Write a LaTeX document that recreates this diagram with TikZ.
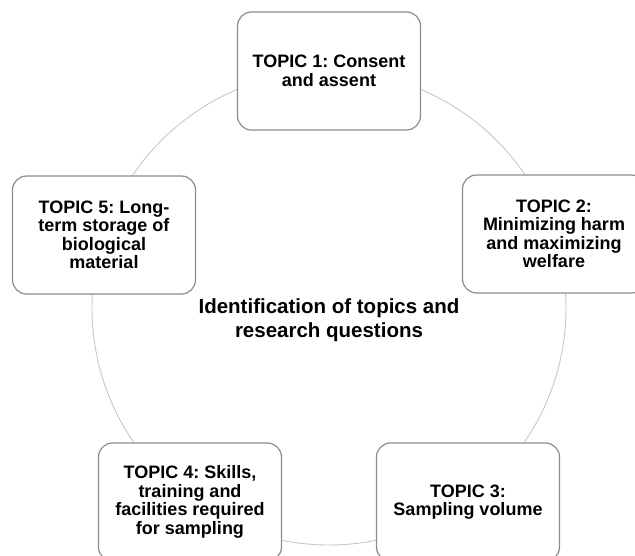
\documentclass[tikz,border=0pt]{standalone}
\usepackage{fontspec}
\setmainfont{Liberation Sans}
\usetikzlibrary{positioning}
\frenchspacing
\tikzset{
  topicbox/.style = {draw=black!45, line width=1.2pt, rounded corners=14pt, fill=white,
                     minimum width=183pt, minimum height=118pt, align=center,
                     inner sep=4pt, font=\fontsize{18}{18.5}\selectfont\bfseries},
  ring/.style     = {draw=black!22, line width=0.9pt},
  hubtext/.style  = {align=center, font=\fontsize{20.5}{24.5}\selectfont\bfseries},
}

\begin{document}
\begin{tikzpicture}[x=1pt, y=-1pt]
  \useasboundingbox (0,0) rectangle (635,556);
  % cycle behind the topics
  \coordinate (ctr) at (329,308);
  \draw[ring] (ctr) circle[radius=237pt];
  % topics
  \node[topicbox] (t1) at (329,71)  {TOPIC 1: Consent\\and assent};
  \node[topicbox] (t2) at (554,234) {TOPIC 2:\\Minimizing harm\\and maximizing\\welfare};
  \node[topicbox] (t3) at (468,502) {TOPIC 3:\\Sampling volume};
  \node[topicbox] (t4) at (190,502) {TOPIC 4: Skills,\\training and\\facilities required\\for sampling};
  \node[topicbox] (t5) at (104,235) {TOPIC 5: Long-\\term storage of\\biological\\material};
  % centre
  \node[hubtext] (hub) at (329,320) {Identification of topics and\\research questions};
\end{tikzpicture}
\end{document}
